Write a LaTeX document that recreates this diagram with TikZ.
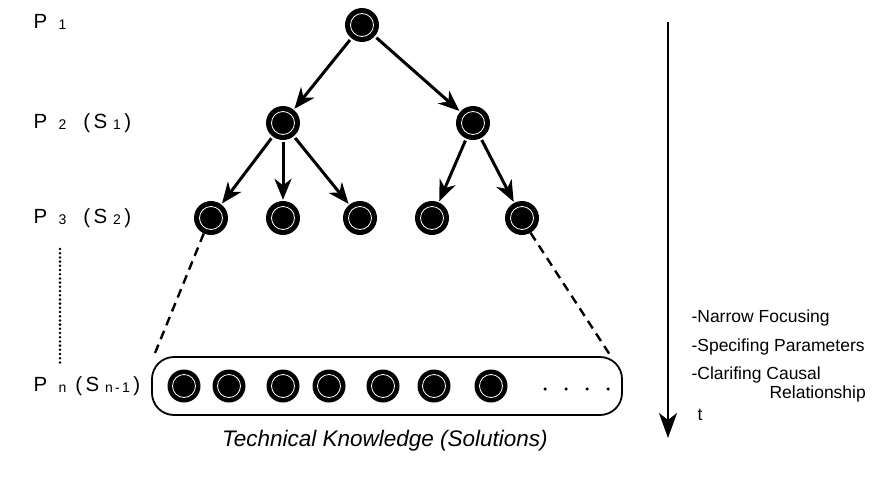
\documentclass[tikz,border=0pt]{standalone}
\usepackage{fontspec}
\setmainfont{Liberation Sans}
\usetikzlibrary{arrows.meta}
\newcommand{\lsub}[1]{\raisebox{-0.15ex}{\fontsize{14}{14}\selectfont #1}}
\begin{document}
\begin{tikzpicture}[x=1pt,y=-1pt,
  blob/.style={circle, fill=black, minimum size=34pt, inner sep=0pt,
    path picture={\draw[white, line width=0.8pt] (path picture bounding box.center) circle (11.5pt);}},
  sblob/.style={blob, minimum size=33pt},
  tarrow/.style={line width=3pt, -{Stealth[length=21pt, width=17pt, inset=6.5pt]}, shorten <=2pt, shorten >=1pt},
  lvl/.style={anchor=west, font=\fontsize{20.5}{20.5}\selectfont},
  rtext/.style={anchor=west, font=\fontsize{17.5}{17.5}\selectfont}]
\useasboundingbox (0,0) rectangle (876,482);
% levels
\node[lvl] (l1) at (30,22) {P\;\;\lsub{1}};
\node[lvl] (l2) at (30,123) {P\;\;\lsub{2}\;\;\;(\,S\;\lsub{1}\,)};
\node[lvl] (l3) at (30,218) {P\;\;\lsub{3}\;\;\;(\,S\;\lsub{2}\,)};
\node[lvl] (ln) at (30,386) {P\;\;\lsub{n}\;\,(\,S\;\lsub{n\,-\,1}\,)};
\coordinate (dt) at (60,249);
\coordinate (db) at (60,366);
\draw[line width=2.8pt, line cap=round, dash pattern=on 0pt off 4.2pt] (dt) -- (db);
% tree
\node[blob] (a) at (362,25) {};
\node[blob] (b1) at (283,123) {};
\node[blob] (b2) at (473,123) {};
\node[blob] (c1) at (211,218) {};
\node[blob] (c2) at (283,218) {};
\node[blob] (c3) at (360,218) {};
\node[blob] (c4) at (432,218) {};
\node[blob] (c5) at (522,218) {};
\draw[tarrow] (a) -- (b1);
\draw[tarrow] (a) -- (b2);
\draw[tarrow] (b1) -- (c1);
\draw[tarrow] (b1) -- (c2);
\draw[tarrow] (b1) -- (c3);
\draw[tarrow] (b2) -- (c4);
\draw[tarrow] (b2) -- (c5);
% bottom box
\node[draw, line width=1.8pt, rounded corners=22pt, minimum width=470pt, minimum height=58pt] (box) at (387,386) {};
\foreach \x [count=\i] in {184,229,283,329,383,434,491} {
  \node[sblob] (d\i) at (\x,386) {};
}
\foreach \x [count=\i] in {545,566,587,608} {
  \node[circle, fill=black, inner sep=0pt, minimum size=3.5pt] (p\i) at (\x,389) {};
}
\coordinate (bl) at (153,358);
\coordinate (br) at (612,358);
\draw[line width=2.4pt, dash pattern=on 9pt off 6pt] (c1.245) -- (bl);
\draw[line width=2.4pt, dash pattern=on 9pt off 6pt] (c5.300) -- (br);
\node[font=\itshape\fontsize{22.5}{22.5}\selectfont] (tk) at (385,441) {Technical Knowledge (Solutions)};
% time arrow
\coordinate (tt) at (668,22);
\coordinate (tb) at (668,438);
\draw[line width=2.4pt, -{Stealth[length=25pt, width=18pt, inset=7pt]}] (tt) -- (tb);
\node[rtext] (t) at (694,415) {t};
\node[rtext] (r1) at (688,318) {-Narrow Focusing};
\node[rtext] (r2) at (688,347) {-Specifing Parameters};
\node[rtext] (r3) at (688,375) {-Clarifing Causal};
\node[rtext] (r4) at (766,394) {Relationship};
\end{tikzpicture}
\end{document}
